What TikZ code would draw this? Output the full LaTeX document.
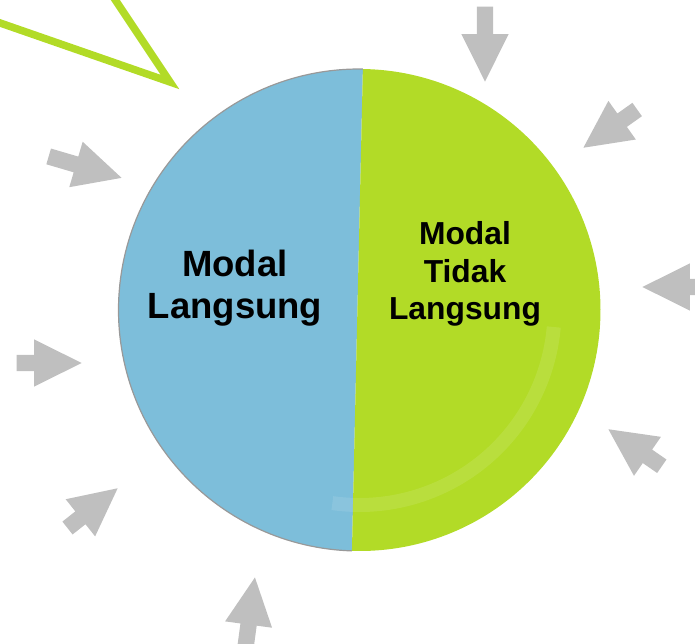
\documentclass[tikz,border=0pt]{standalone}
\usepackage{fontspec}
\setmainfont{Liberation Sans}
\usetikzlibrary{arrows, arrows.meta}
\usetikzlibrary{shapes, shapes.arrows}
\definecolor{modalblue}{RGB}{125,190,218}
\definecolor{modalgreen}{RGB}{178,219,39}
\definecolor{arrowgrey}{RGB}{191,191,191}
\tikzset{grey arrow/.style={single arrow, fill=arrowgrey, draw=none, inner xsep=0pt, inner ysep=8pt, minimum width=47pt, single arrow head extend=15.5pt, single arrow tip angle=53, anchor=tip}}
\tikzset{modal text/.style={align=center, inner sep=0pt, text=black}}

\begin{document}
\begin{tikzpicture}[x=1pt,y=1pt]
      \useasboundingbox (0,0) rectangle (695,643);
      \clip (0,0) rectangle (695,643);
      \draw[modalgreen, line width=7.5pt, miter limit=10] (-20,627) -- (170,561) -- (104,660);
      \coordinate (c) at (359.5,333);
      \fill[modalblue] (c) ++(89.2:241) arc[start angle=89.2, end angle=268.2, radius=241] -- cycle;
      \fill[modalgreen] (c) ++(268.2:241) arc[start angle=268.2, end angle=449.2, radius=241] -- cycle;
      \draw[gray!80, line width=1.2pt] (c) ++(89.2:241) arc[start angle=89.2, end angle=268.2, radius=241];
      \draw[white, opacity=0.1, line width=14pt] (c) ++(-98:195) arc[start angle=-98, end angle=-5, radius=195];
      \foreach \x/\y/\ang/\len/\n in {122/465/-16.4/76/pushnw, 485/561/-90/75/pushn, 583/495/215.4/66/pushne, 642/356/180/75/pushe, 608/214/145.3/65/pushse, 255/66/82.3/75/pushs, 118/155/38.4/64/pushsw, 82/280/0/65/pushw}
\node[grey arrow, minimum height=\len pt, rotate=\ang] (\n) at (\x,\y) {};
      \node[modal text, font=\fontsize{36.5}{42}\selectfont\bfseries] (langsung) at (235,355) {Modal\\Langsung};
      \node[modal text, font=\fontsize{31.8}{37.5}\selectfont\bfseries] (tidaklangsung) at (465,369) {Modal\\Tidak\\Langsung};
    \end{tikzpicture}
\end{document}
